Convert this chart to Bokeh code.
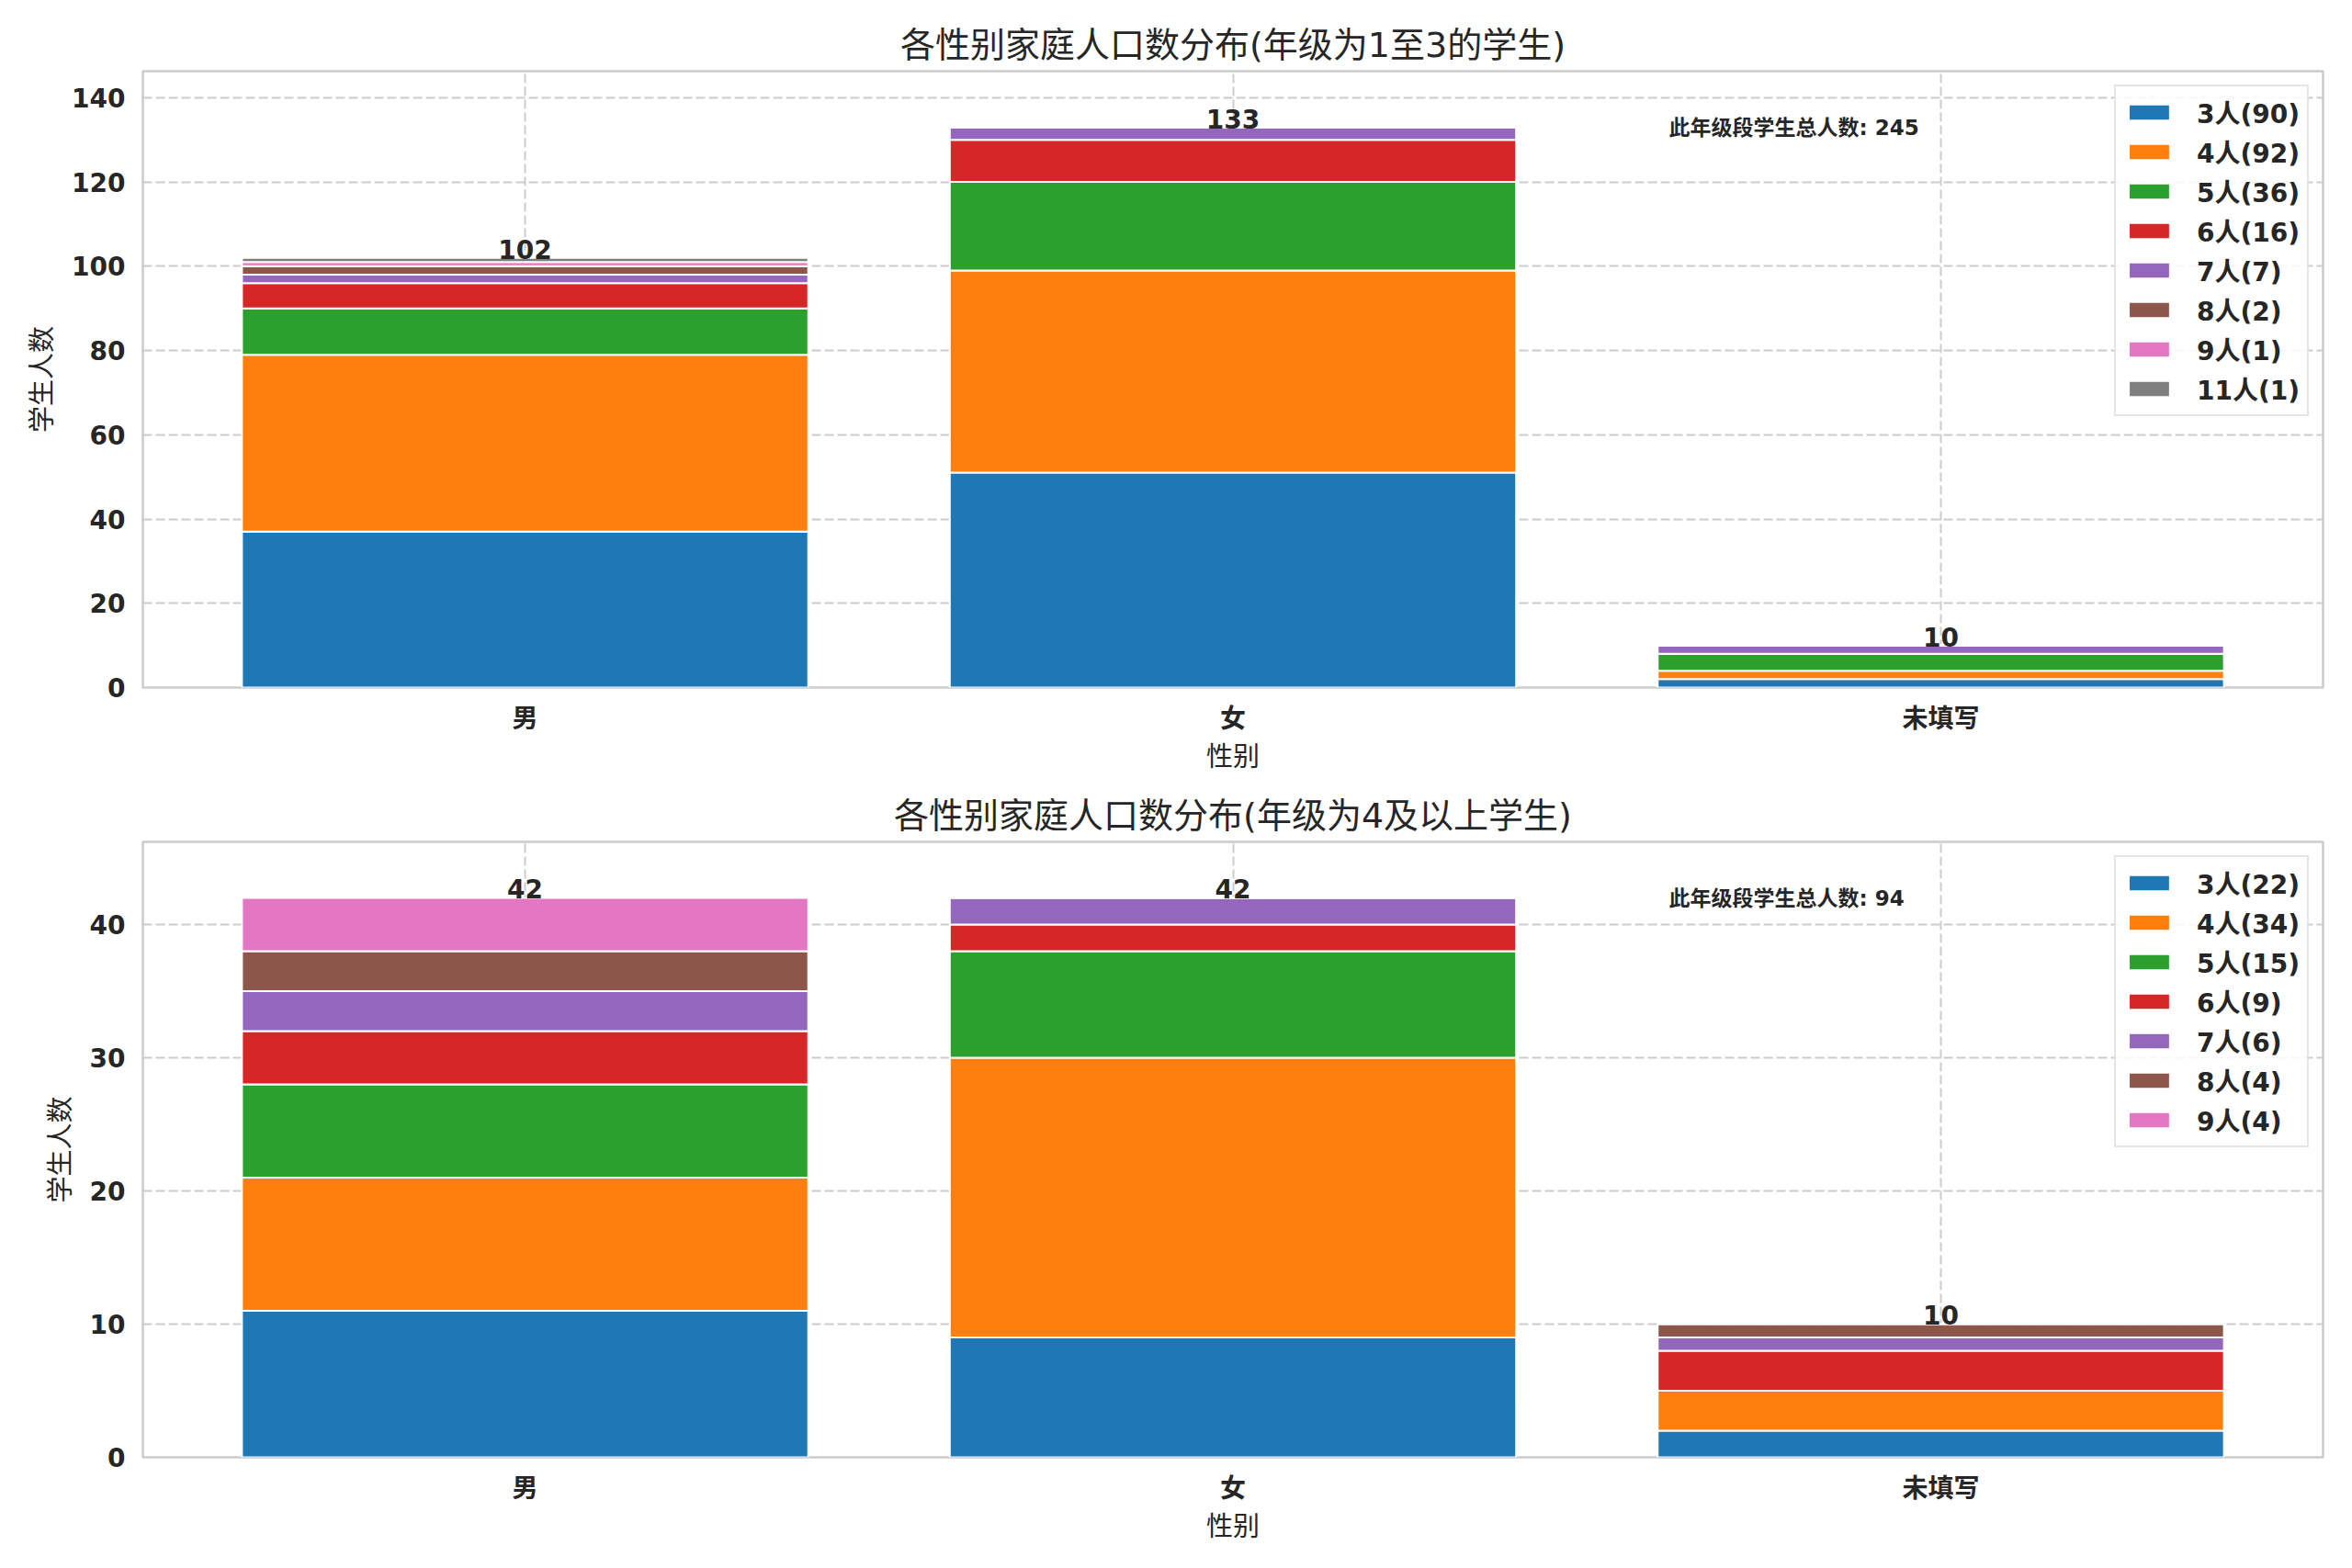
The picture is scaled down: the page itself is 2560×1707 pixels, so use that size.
from bokeh.plotting import figure
from bokeh.models import ColumnDataSource, FixedTicker, SingleIntervalTicker, Range1d, Label
from bokeh.layouts import column
from bokeh.embed import file_html
from bokeh.resources import INLINE
from bokeh.core.properties import value

# ---------------- data ----------------
categories = ["男", "女", "未填写"]
x_label = "性别"
y_label = "学生人数"
unit = "人"
total_prefix = "此年级段学生总人数"

title_1 = "各性别家庭人口数分布(年级为1至3的学生)"
sizes_1 = ["3", "4", "5", "6", "7", "8", "9", "11"]
top_3 = [37, 51, 2]
top_4 = [42, 48, 2]
top_5 = [11, 21, 4]
top_6 = [6, 10, 0]
top_7 = [2, 3, 2]
top_8 = [2, 0, 0]
top_9 = [1, 0, 0]
top_11 = [1, 0, 0]
series_1 = [top_3, top_4, top_5, top_6, top_7, top_8, top_9, top_11]

title_2 = "各性别家庭人口数分布(年级为4及以上学生)"
sizes_2 = ["3", "4", "5", "6", "7", "8", "9"]
bot_3 = [11, 9, 2]
bot_4 = [10, 21, 3]
bot_5 = [7, 8, 0]
bot_6 = [4, 2, 3]
bot_7 = [3, 2, 1]
bot_8 = [3, 0, 1]
bot_9 = [4, 0, 0]
series_2 = [bot_3, bot_4, bot_5, bot_6, bot_7, bot_8, bot_9]

y_tick_step_1 = 20
y_tick_step_2 = 10

palette = ["#1f77b4", "#ff7f0e", "#2ca02c", "#d62728",
           "#9467bd", "#8c564b", "#e377c2", "#7f7f7f"]

FONT = "DejaVu Sans, Noto Sans CJK SC"
TXT = "#262626"
GRIDC = "#cccccc"


def make_panel(title, sizes, series, tick_step, border_top, border_bottom, frame_h):
    xs = list(range(len(categories)))
    totals = [sum(col) for col in zip(*series)]
    keys = ["s" + s for s in sizes]
    data = {"x": xs}
    for k, vals in zip(keys, series):
        data[k] = vals
    src = ColumnDataSource(data)

    width = 0.8
    lo = -width / 2
    hi = len(categories) - 1 + width / 2
    pad = 0.05 * (hi - lo)
    x0, x1 = lo - pad, hi + pad
    y1 = max(totals) * 1.1

    p = figure(frame_width=2373, frame_height=frame_h,
               x_range=Range1d(x0, x1), y_range=Range1d(0, y1),
               output_backend="svg", toolbar_location=None,
               title=title,
               min_border_left=155, min_border_right=24,
               min_border_top=border_top, min_border_bottom=border_bottom,
               background_fill_color="white", border_fill_color="white")

    labels = [f"{s}{unit}({sum(v)})" for s, v in zip(sizes, series)]
    p.vbar_stack(keys, x="x", width=width, source=src,
                 color=palette[:len(keys)], line_color="white", line_width=2,
                 legend_label=labels)

    tsrc = ColumnDataSource(dict(x=xs, y=totals, t=[str(t) for t in totals]))
    p.text(x="x", y="y", text="t", source=tsrc, text_align="center",
           text_baseline="bottom", text_font=value(FONT),
           text_font_style="bold", text_font_size="28px", text_color=TXT,
           y_offset=1)

    ann = Label(x=x0 + 0.70 * (x1 - x0), y=y1 * (1 - 0.072),
                text=f"{total_prefix}: {sum(totals)}",
                text_font=FONT, text_font_size="23px", text_font_style="bold",
                text_color=TXT, text_align="left", text_baseline="top")
    p.add_layout(ann)

    # title
    p.title.text_font = FONT
    p.title.text_font_size = "38px"
    p.title.text_font_style = "normal"
    p.title.text_color = TXT
    p.title.align = "center"
    p.title.standoff = 13

    # axes
    p.xaxis.ticker = FixedTicker(ticks=xs)
    p.xaxis.major_label_overrides = {i: c for i, c in enumerate(categories)}
    p.yaxis.ticker = SingleIntervalTicker(interval=tick_step, num_minor_ticks=0)
    for ax in (p.xaxis, p.yaxis):
        ax.axis_line_color = None
        ax.major_tick_line_color = None
        ax.minor_tick_line_color = None
        ax.major_tick_in = 0
        ax.major_tick_out = 0
        ax.major_label_text_font = FONT
        ax.major_label_text_font_size = "28px"
        ax.major_label_text_font_style = "bold"
        ax.major_label_text_color = TXT
        ax.axis_label_text_font = FONT
        ax.axis_label_text_font_size = "29px"
        ax.axis_label_text_font_style = "normal"
        ax.axis_label_text_color = TXT
    p.xaxis.axis_label = x_label
    p.yaxis.axis_label = y_label
    p.xaxis.major_label_standoff = 17
    p.xaxis.axis_label_standoff = 5
    p.yaxis.major_label_standoff = 19
    p.yaxis.axis_label_standoff = 12

    # grid & frame
    p.grid.grid_line_color = GRIDC
    p.grid.grid_line_dash = "10 4"
    p.grid.grid_line_width = 2
    p.outline_line_color = GRIDC
    p.outline_line_width = 2.5

    # legend
    lg = p.legend[0]
    lg.location = "top_right"
    lg.margin = 15
    lg.padding = 8
    lg.spacing = 3
    lg.label_height = 30
    lg.glyph_width = 56
    lg.glyph_height = 22
    lg.label_standoff = 24
    lg.label_text_font = FONT
    lg.label_text_font_size = "28px"
    lg.label_text_font_style = "bold"
    lg.label_text_color = TXT
    lg.border_line_color = GRIDC
    lg.border_line_width = 2
    lg.background_fill_color = "white"
    lg.background_fill_alpha = 0.85
    return p


p1 = make_panel(title_1, sizes_1, series_1, y_tick_step_1, 77, 108, 671)
p2 = make_panel(title_2, sizes_2, series_2, y_tick_step_2, 60, 110, 670)

p = column(p1, p2, spacing=0)
open("out.html", "w").write(file_html(p, INLINE))
